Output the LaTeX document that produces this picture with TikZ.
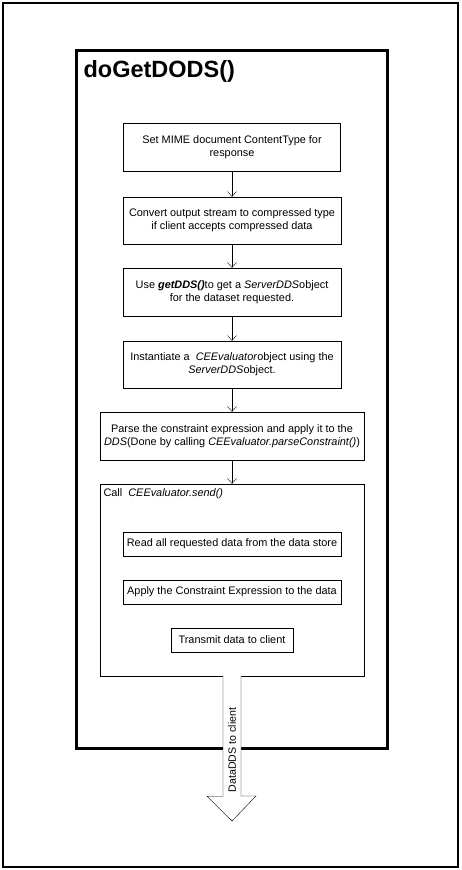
\documentclass[tikz,border=0pt]{standalone}
\usepackage{fontspec}
\setmainfont{Liberation Sans}
\usetikzlibrary{arrows.meta}

\tikzset{
  stepbox/.style={draw, rectangle, inner sep=0pt, align=center,
    font=\fontsize{10.9}{12.7}\selectfont, minimum height=48pt},
  flow/.style={-{Straight Barb[length=5pt,width=9pt]}},
}

\begin{document}
\begin{tikzpicture}[x=1pt,y=-1pt]
    % Page frame
        \useasboundingbox (0,0) rectangle (462,870);
        \draw[line width=2pt] (2.7,2.7) rectangle (457.5,866.5);

        % Method frame
        \draw[line width=3pt] (76,50) rectangle (387,748);
        \node[anchor=base west, font=\fontsize{23.5}{27}\selectfont\bfseries] (title) at (80,77) {doGetDODS()};

        % Steps
        \node[stepbox, minimum width=217pt] (mime) at (232,147) {Set MIME document ContentType for\\response};
        \node[stepbox, minimum width=218pt, minimum height=47pt] (conv) at (232,220.5) {Convert output stream to compressed type\\if client accepts compressed data};
        \node[stepbox, minimum width=218pt] (dds) at (232,292) {Use \textbf{\textit{getDDS()}}to get a \textit{ServerDDS}object\\for the dataset requested.};
        \node[stepbox, minimum width=218pt, minimum height=47pt] (inst) at (232,364.5) {Instantiate a \ \textit{CEEvaluator}object using the\\\textit{ServerDDS}object.};
        \node[stepbox, minimum width=264pt] (parse) at (232,436) {Parse the constraint expression and apply it to the\\\textit{DDS}(Done by calling \textit{CEEvaluator.parseConstraint()})};

        % Send block
        \node[draw, rectangle, inner sep=0pt, minimum width=264pt, minimum height=192pt] (call) at (232,580) {};
        \node[anchor=base west, font=\fontsize{10.9}{12.7}\selectfont] (calltxt) at (100,496) {Call \ \textit{CEEvaluator.send()}};
        \node[stepbox, minimum width=218pt, minimum height=24pt] (read) at (232,544) {Read all requested data from the data store};
        \node[stepbox, minimum width=218pt, minimum height=24pt] (apply) at (232,592) {Apply the Constraint Expression to the data};
        \node[stepbox, minimum width=122pt, minimum height=24pt] (send) at (232,640) {Transmit data to client};

        % Flow arrows
        \draw[flow] (mime) -- (conv);
        \draw[flow] (conv) -- (dds);
        \draw[flow] (dds) -- (inst);
        \draw[flow] (inst) -- (parse);
        \draw[flow] (parse) -- (call);

        % Output arrow
        \coordinate (out) at (232,821);
        \draw[fill=white] ([xshift=-9pt]call.south) -- ++(0,120) -- ++(-16,0) -- (out)
            -- ++(24,-25) -- ++(-15,0) -- ([xshift=9pt]call.south);
        \node[rotate=90, font=\fontsize{10.6}{12.7}\selectfont] (outtxt) at (232,750) {DataDDS to client};

    \end{tikzpicture}
\end{document}
